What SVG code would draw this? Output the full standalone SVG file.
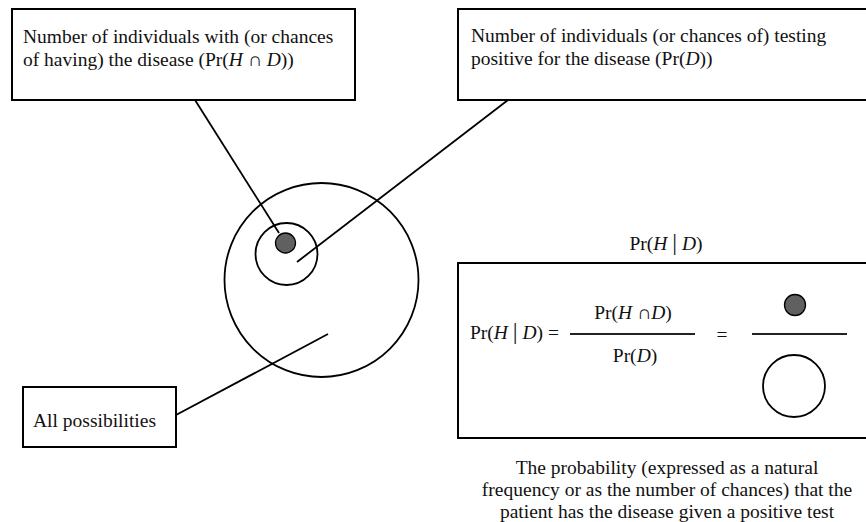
<svg xmlns="http://www.w3.org/2000/svg" width="866" height="522" viewBox="0 0 866 522">
<style>
.box{fill:#fff;stroke:#000;stroke-width:2}
.t{font-family:"Liberation Serif","Times New Roman",serif;font-size:19.5px;fill:#111}
.i{font-style:italic}
.bar{font-size:24px}
.c{stroke:#000;stroke-width:1.8;fill:none}
.circ{fill:none;stroke:#000;stroke-width:1.8}
.dot{fill:#606060;stroke:#000;stroke-width:1.3}
.rule{stroke:#222;stroke-width:2}
</style>
<rect width="866" height="522" fill="#fff"/>
<g id="connectors">
<line class="c" x1="195" y1="100" x2="279" y2="233"/>
<line class="c" x1="508" y1="100" x2="297" y2="262"/>
<line class="c" x1="176" y1="415" x2="328" y2="334"/>
</g>
<g id="venn">
<circle class="circ" cx="321.5" cy="280" r="97"/>
<circle class="circ" cx="286.5" cy="254" r="31"/>
<circle class="dot" cx="285.5" cy="243" r="10"/>
</g>
<g id="box-disease">
<rect class="box" x="12" y="9" width="343" height="91"/>
<text class="t" x="23" y="43">Number of individuals with (or chances</text>
<text class="t" x="23" y="66">of having) the disease (Pr(<tspan class="i">H</tspan> ∩ <tspan class="i">D</tspan>))</text>
</g>
<g id="box-positive">
<rect class="box" x="458" y="9" width="412" height="91"/>
<text class="t" x="471" y="42">Number of individuals (or chances of) testing</text>
<text class="t" x="471" y="65">positive for the disease (Pr(<tspan class="i">D</tspan>))</text>
</g>
<g id="box-all">
<rect class="box" x="23" y="387" width="153" height="60"/>
<text class="t" x="33" y="427">All possibilities</text>
</g>
<g id="label-top">
<text class="t" x="666" y="250" text-anchor="middle">Pr(<tspan class="i">H</tspan> <tspan class="bar">|</tspan> <tspan class="i">D</tspan>)</text>
</g>
<g id="formula">
<rect class="box" x="458" y="263" width="412" height="175"/>
<text class="t" x="470" y="339">Pr(<tspan class="i">H</tspan> <tspan class="bar">|</tspan> <tspan class="i">D</tspan>) =</text>
<text class="t" x="633" y="319" text-anchor="middle">Pr(<tspan class="i">H</tspan> ∩<tspan class="i">D</tspan>)</text>
<line class="rule" x1="570" y1="334" x2="695" y2="334"/>
<text class="t" x="635" y="362" text-anchor="middle">Pr(<tspan class="i">D</tspan>)</text>
<text class="t" x="722" y="341" text-anchor="middle">=</text>
<circle class="dot" cx="795" cy="305" r="10.5"/>
<line class="rule" x1="752" y1="334" x2="847" y2="334"/>
<circle class="circ" cx="794" cy="386" r="31"/>
</g>
<g id="caption">
<text class="t" x="667" y="474" text-anchor="middle">The probability (expressed as a natural</text>
<text class="t" x="667" y="496" text-anchor="middle">frequency or as the number of chances) that the</text>
<text class="t" x="667" y="518" text-anchor="middle">patient has the disease given a positive test</text>
</g>
</svg>
